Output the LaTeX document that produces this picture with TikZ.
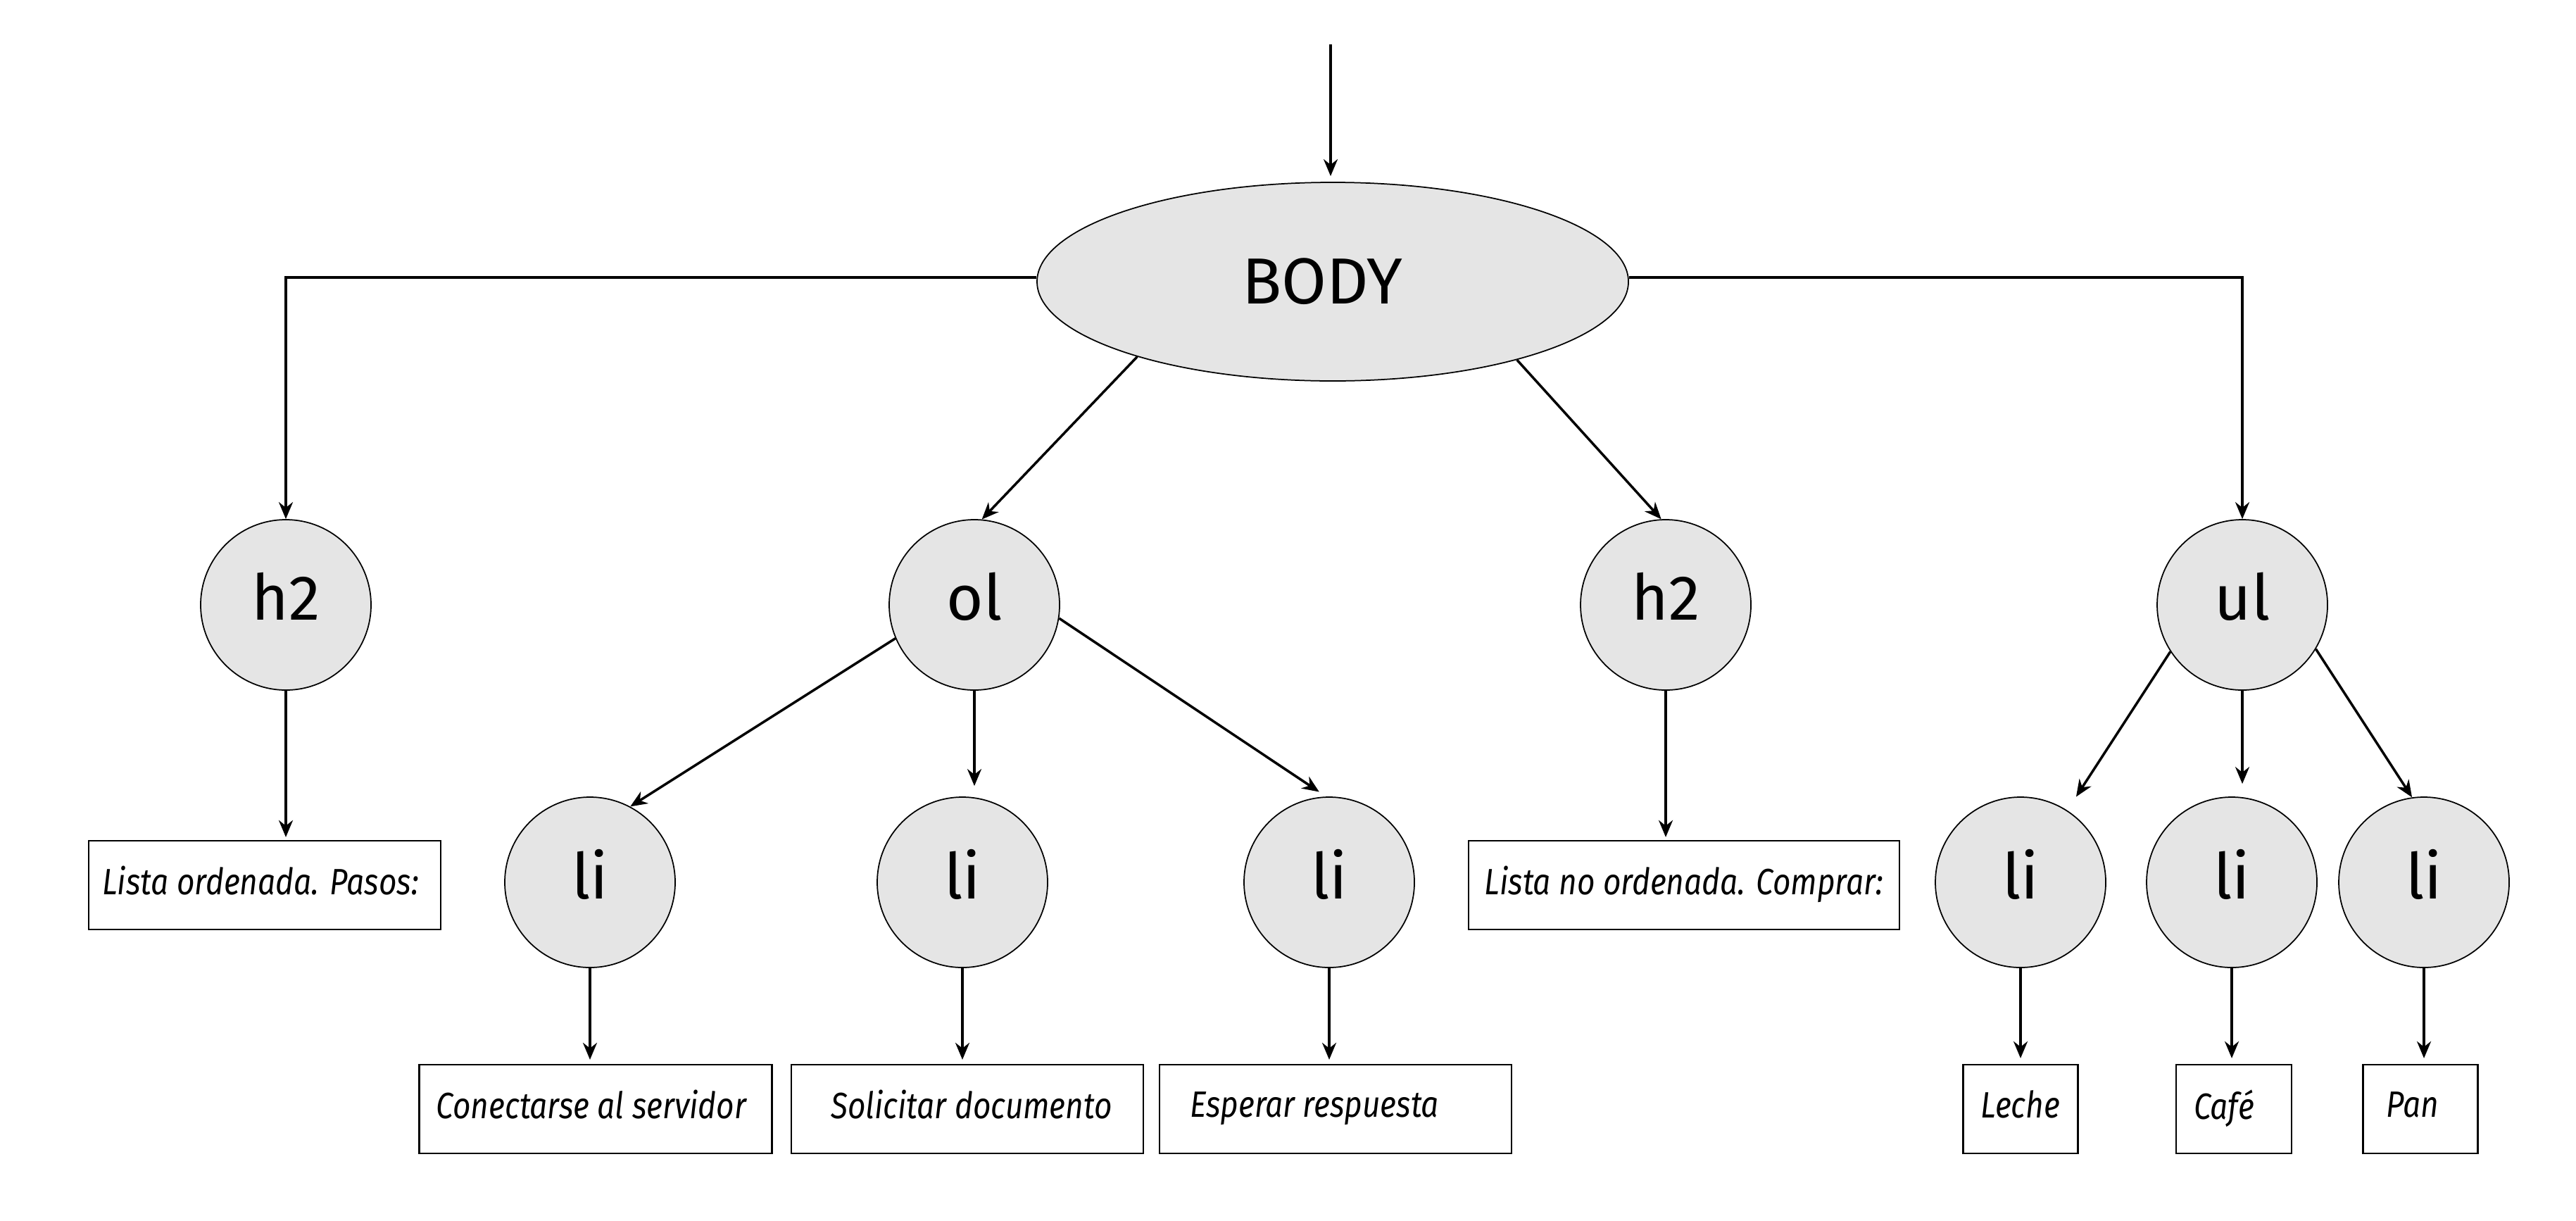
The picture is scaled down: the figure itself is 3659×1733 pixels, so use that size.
\documentclass[tikz,border=0pt]{standalone}
\usepackage{fontspec}
\setmainfont{Fira Sans}
\newfontfamily\boxfont{Fira Sans}[FakeStretch=0.85]
\usetikzlibrary{shapes.geometric,arrows.meta}
\tikzset{
  arr/.style={line width=0.7pt,-{Stealth[length=4.8pt,width=4pt]}},
  elem/.style={circle,draw,line width=0.35pt,fill=black!10,minimum size=48.4pt,inner sep=0pt,text depth=4.8pt,font=\fontsize{18}{20}\selectfont},
  rootel/.style={ellipse,draw,line width=0.35pt,fill=black!10,minimum width=168pt,minimum height=56.4pt,inner sep=0pt,font=\fontsize{18.5}{20}\selectfont},
  txtbox/.style={rectangle,draw,line width=0.45pt,minimum height=25.2pt,inner sep=0pt,text depth=2.6pt,font=\boxfont\itshape\fontsize{10.4}{12}\selectfont},
}
\begin{document}
\begin{tikzpicture}[x=0.2pt,y=-0.2pt]
\useasboundingbox (0,0) rectangle (3659,1733);
\coordinate (top) at (1890,63);
\node[rootel] (body) at (1893,400) {BODY\kern6pt};
\node[elem] (h2a) at (406,859) {h2};
\node[elem] (ol) at (1384,859) {ol};
\node[elem] (h2b) at (2366,859) {h2};
\node[elem] (ul) at (3185,859) {ul};
\node[elem] (li1) at (838,1253) {li};
\node[elem] (li2) at (1367,1253) {li};
\node[elem] (li3) at (1888,1253) {li};
\node[elem] (li4) at (2870,1253) {li};
\node[elem] (li5) at (3170,1253) {li};
\node[elem] (li6) at (3443,1253) {li};
\node[txtbox,minimum width=100pt] (b1) at (376,1257) {Lista ordenada. Pasos:\kern2.4pt};
\node[txtbox,minimum width=122.4pt] (b2) at (2392,1257) {Lista no ordenada. Comprar:};
\node[txtbox,minimum width=100.2pt] (b3) at (846,1575) {Conectarse al servidor\kern2.4pt};
\node[txtbox,minimum width=100pt] (b4) at (1374,1575) {\kern2.4pt Solicitar documento};
\node[txtbox,minimum width=100pt] (b5) at (1897,1575) {Esperar respuesta\kern12pt};
\node[txtbox,minimum width=32.6pt] (b6) at (2870,1575) {Leche};
\node[txtbox,minimum width=32.8pt] (b7) at (3173,1575) {Café\kern5.6pt};
\node[txtbox,minimum width=32.6pt] (b8) at (3438,1575) {Pan\kern4.4pt};
\draw[arr,shorten >=1.6pt] (top) -- (top |- body.north);
\draw[arr] ([yshift=1.2pt]body.west) -| (h2a.north);
\draw[arr] ([yshift=1.2pt]body.east) -| (ul.north);
\draw[arr] (body.201) -- (ol.85);
\draw[arr] (body.-23) -- (h2b.93);
\draw[arr] (ol.203) -- (li1.62);
\draw[arr,shorten >=3pt] (ol.south) -- (ol.south |- li2.north);
\draw[arr,shorten >=2.4pt] (ol.-9) -- (li3.92);
\draw[arr,shorten >=4.6pt] (ul.213) -- (li4.57);
\draw[arr,shorten >=3.6pt] (ul.south) -- (ul.south |- li5.north);
\draw[arr] (ul.-31) -- (li6.98);
\draw[arr,shorten >=0.8pt] (h2a.south) -- (h2a.south |- b1.north);
\draw[arr,shorten >=0.8pt] (h2b.south) -- (h2b.south |- b2.north);
\draw[arr,shorten >=1.2pt] (li1.south) -- (li1.south |- b3.north);
\draw[arr,shorten >=1.2pt] (li2.south) -- (li2.south |- b4.north);
\draw[arr,shorten >=1.2pt] (li3.south) -- (li3.south |- b5.north);
\draw[arr,shorten >=1.6pt] (li4.south) -- (li4.south |- b6.north);
\draw[arr,shorten >=1.6pt] (li5.south) -- (li5.south |- b7.north);
\draw[arr,shorten >=1.6pt] (li6.south) -- (li6.south |- b8.north);
\end{tikzpicture}
\end{document}
